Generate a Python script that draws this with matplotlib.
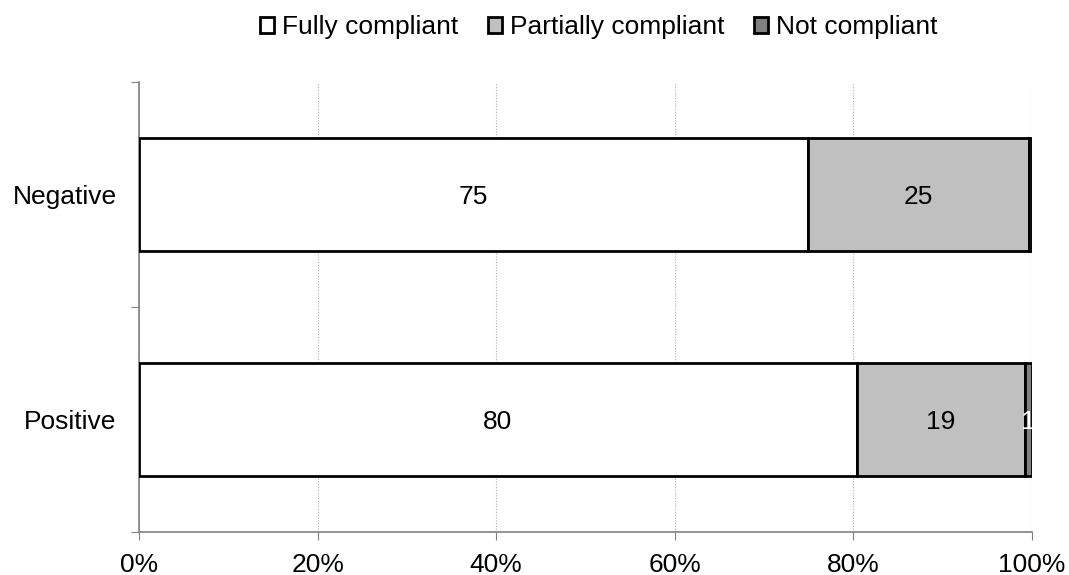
import matplotlib.pyplot as plt
from matplotlib.patches import Patch

plt.rcParams['font.family'] = ['Liberation Sans', 'DejaVu Sans']

categories = ['Positive', 'Negative']
series = ['Fully compliant', 'Partially compliant', 'Not compliant']
fully = [80.4, 74.9]
partial = [18.8, 24.8]
notc = [0.8, 0.3]
colors = ['#ffffff', '#c0c0c0', '#808080']
label_colors = ['black', 'black', 'white']

fig = plt.figure(figsize=(10.69, 5.75), dpi=100)
ax = fig.add_axes([0.130, 0.0748, 0.8354, 0.7826])

y = list(range(len(categories)))
left = [0.0] * len(categories)
for vals, name, col, lc in zip([fully, partial, notc], series, colors, label_colors):
    bars = ax.barh(y, vals, left=left, height=0.5, color=col,
                   edgecolor='black', linewidth=2, zorder=3)
    for b, v in zip(bars, vals):
        if round(v) >= 1:
            ax.text(b.get_x() + b.get_width() / 2, b.get_y() + b.get_height() / 2 - 0.01,
                    str(round(v)), ha='center', va='center', fontsize=19,
                    color=lc, zorder=4)
    left = [l + v for l, v in zip(left, vals)]

ax.set_xlim(0, 100)
ax.set_ylim(-0.5, 1.5)
ax.set_xticks([0, 20, 40, 60, 80, 100])
ax.set_xticklabels([f'{t}%' for t in [0, 20, 40, 60, 80, 100]], fontsize=19)
ax.set_yticks([-0.5, 0.5, 1.5])
ax.set_yticklabels([])
ax.set_yticks(y, minor=True)
ax.set_yticklabels(categories, minor=True, fontsize=19)
ax.tick_params(axis='y', which='minor', length=0, pad=16)
ax.tick_params(axis='y', which='major', length=6, color='#808080')
ax.tick_params(axis='x', length=6, color='#808080', pad=9)

ax.grid(axis='x', color='#b0b0b0', linestyle=(0, (1, 1.5)), linewidth=0.8, zorder=0)
for s in ['top', 'right']:
    ax.spines[s].set_visible(False)
for s in ['left', 'bottom']:
    ax.spines[s].set_color('#808080')
    ax.spines[s].set_linewidth(1.2)

handles = [Patch(facecolor=c, edgecolor='black', linewidth=2) for c in colors]
fig.legend(handles, series, loc='center', bbox_to_anchor=(0.56, 0.953), ncol=3,
           frameon=False, fontsize=19, handlelength=0.55, handleheight=0.55,
           handletextpad=0.3, columnspacing=1.1)

fig.savefig('out.png', dpi=100)
